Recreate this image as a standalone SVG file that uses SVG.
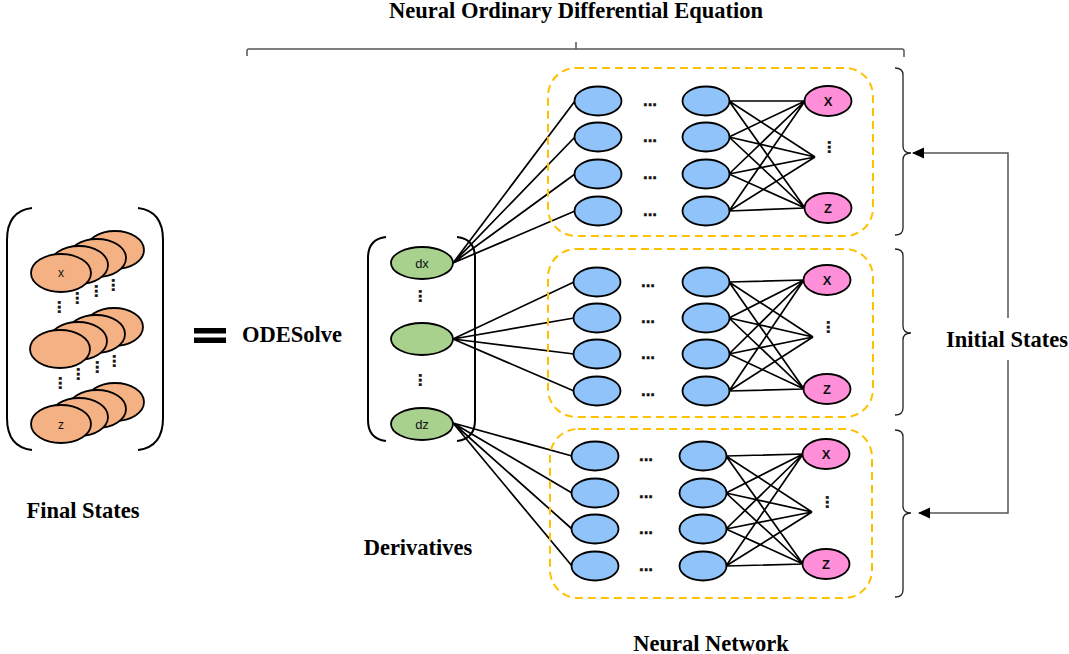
<svg xmlns="http://www.w3.org/2000/svg" width="1069" height="654" viewBox="0 0 1069 654">
  <defs>
    <style>
      .title { font-family: "Liberation Serif", "Times New Roman", serif; font-weight: bold; font-size: 22.5px; fill: #000; }
      .lbl { font-family: "Liberation Sans", Arial, sans-serif; fill: #111; text-anchor: middle; }
      .dots { font-family: "Liberation Sans", Arial, sans-serif; font-weight: bold; font-size: 17px; fill: #111; stroke: #111; stroke-width: 0.4; text-anchor: middle; }
      .state { fill: #F4B183; stroke: #000; stroke-width: 1.8; }
      .deriv { fill: #A9D18E; stroke: #000; stroke-width: 1.8; }
      .hidden { fill: #8FC3F9; stroke: #000; stroke-width: 1.8; }
      .out { fill: #FF8FD8; stroke: #000; stroke-width: 1.8; }
      .net { fill: none; stroke: #FFC000; stroke-width: 2; stroke-dasharray: 8 5; }
      .wire { stroke: #000; stroke-width: 1.7; fill: none; }
      .paren { fill: none; stroke: #000; stroke-width: 2; }
      .brace { fill: none; stroke: #222; stroke-width: 1.3; }
      .guide { fill: none; stroke: #555; stroke-width: 1.5; }
    </style>
    <marker id="tri" viewBox="0 0 12 12" refX="11" refY="6" markerWidth="12" markerHeight="12" markerUnits="userSpaceOnUse" orient="auto">
      <path d="M0,0.5 L12,6 L0,11.5 Z" fill="#000"/>
    </marker>
  </defs>

  <rect width="1069" height="654" fill="#fff"/>

  <!-- headline and overall bracket -->
  <g id="ode-title">
    <text class="title" x="576" y="18" text-anchor="middle">Neural Ordinary Differential Equation</text>
    <path class="guide" d="M247,56 L247,51 Q247,49 249,49 L902,49 Q904,49 904,51 L904,57 M576,49 L576,42"/>
  </g>

  <!-- final states: stacked ellipses in parentheses -->
  <g id="final-states">
    <path class="paren" d="M32,208 Q7,211 7,240 L7,418 Q7,447 32,450"/>
    <path class="paren" d="M138,208 Q163,211 163,240 L163,418 Q163,447 138,450"/>
    <!-- row x -->
    <ellipse class="state" cx="115" cy="250" rx="29" ry="19"/>
    <ellipse class="state" cx="97" cy="258" rx="29" ry="19"/>
    <ellipse class="state" cx="79" cy="265" rx="29" ry="19"/>
    <ellipse class="state" cx="61" cy="273" rx="30" ry="19"/>
    <text class="lbl" x="61" y="277" font-size="12">x</text>
    <!-- row middle -->
    <ellipse class="state" cx="114" cy="327" rx="29" ry="19"/>
    <ellipse class="state" cx="96" cy="334" rx="29" ry="19"/>
    <ellipse class="state" cx="78" cy="341" rx="29" ry="19"/>
    <ellipse class="state" cx="60" cy="349" rx="30" ry="19"/>
    <!-- row z -->
    <ellipse class="state" cx="115" cy="402" rx="29" ry="19"/>
    <ellipse class="state" cx="97" cy="409" rx="29" ry="19"/>
    <ellipse class="state" cx="79" cy="417" rx="29" ry="19"/>
    <ellipse class="state" cx="61" cy="424" rx="30" ry="19"/>
    <text class="lbl" x="61" y="429" font-size="12">z</text>
    <!-- vertical ellipsis between rows -->
    <g class="dots">
      <text transform="translate(58,307) rotate(90)">...</text>
      <text transform="translate(76,298) rotate(90)">...</text>
      <text transform="translate(95,291) rotate(90)">...</text>
      <text transform="translate(112,285) rotate(90)">...</text>
      <text transform="translate(59,383) rotate(90)">...</text>
      <text transform="translate(77,374) rotate(90)">...</text>
      <text transform="translate(96,367) rotate(90)">...</text>
      <text transform="translate(113,361) rotate(90)">...</text>
    </g>
    <text class="title" x="83" y="518" text-anchor="middle">Final States</text>
  </g>

  <!-- equals sign and solver name -->
  <g id="odesolve">
    <rect x="194" y="328" width="32" height="5.5" fill="#000"/>
    <rect x="194" y="337.5" width="32" height="5.5" fill="#000"/>
    <text class="title" x="242" y="342">ODESolve</text>
  </g>

  <!-- derivatives column -->
  <g id="derivatives">
    <path class="paren" d="M386,237 Q368,239 368,258 L368,420 Q368,439 386,441"/>
    <path class="paren" d="M457,237 Q475,239 475,258 L475,420 Q475,439 457,441"/>
    <text class="title" x="418" y="555" text-anchor="middle">Derivatives</text>
  </g>

  <!-- connectors -->
  <g id="connectors">
    <!-- derivative nodes to first hidden layer -->
    <path class="wire" d="M453,263 L575,101 M453,263 L575,137 M453,263 L575,174 M453,263 L575,211"/>
    <path class="wire" d="M453,339 L574,282 M453,339 L574,318 M453,339 L574,354 M453,339 L574,391"/>
    <path class="wire" d="M453,423 L572,456 M453,423 L572,493 M453,423 L572,529 M453,423 L572,566"/>
    <!-- last hidden layer to outputs, top network -->
    <path class="wire" d="M729,101 L805,101 M729,101 L815,157 M729,101 L805,208
                          M729,137 L805,101 M729,137 L815,157 M729,137 L805,208
                          M729,174 L805,101 M729,174 L815,157 M729,174 L805,208
                          M729,211 L805,101 M729,211 L815,157 M729,211 L805,208"/>
    <!-- middle network -->
    <path class="wire" d="M729,282 L804,280 M729,282 L813,337 M729,282 L804,389
                          M729,318 L804,280 M729,318 L813,337 M729,318 L804,389
                          M729,354 L804,280 M729,354 L813,337 M729,354 L804,389
                          M729,391 L804,280 M729,391 L813,337 M729,391 L804,389"/>
    <!-- bottom network -->
    <path class="wire" d="M726,456 L803,454 M726,456 L812,512 M726,456 L803,564
                          M726,493 L803,454 M726,493 L812,512 M726,493 L803,564
                          M726,529 L803,454 M726,529 L812,512 M726,529 L803,564
                          M726,566 L803,454 M726,566 L812,512 M726,566 L803,564"/>
    <!-- initial states feedback -->
    <path class="guide" d="M1008,318 L1008,153 L913,153" marker-end="url(#tri)"/>
    <path class="guide" d="M1008,360 L1008,513 L919,513" marker-end="url(#tri)"/>
  </g>

  <g id="deriv-nodes">
    <ellipse class="deriv" cx="422" cy="263" rx="31" ry="16"/>
    <text class="lbl" x="422" y="267.5" font-size="13">dx</text>
    <text class="dots" transform="translate(419,296) rotate(90)">...</text>
    <ellipse class="deriv" cx="422" cy="339" rx="31" ry="16"/>
    <text class="dots" transform="translate(419,380) rotate(90)">...</text>
    <ellipse class="deriv" cx="422" cy="424" rx="31" ry="16"/>
    <text class="lbl" x="422" y="428.5" font-size="13">dz</text>
  </g>

  <!-- neural network 1 -->
  <g id="network-1">
    <rect class="net" x="548" y="68" width="325" height="168" rx="28"/>
    <ellipse class="hidden" cx="598" cy="101" rx="23.5" ry="14.5"/>
    <ellipse class="hidden" cx="598" cy="137" rx="23.5" ry="14.5"/>
    <ellipse class="hidden" cx="598" cy="174" rx="23.5" ry="14.5"/>
    <ellipse class="hidden" cx="598" cy="211" rx="23.5" ry="14.5"/>
    <text class="dots" x="650" y="106">...</text>
    <text class="dots" x="650" y="142">...</text>
    <text class="dots" x="650" y="179">...</text>
    <text class="dots" x="650" y="216">...</text>
    <ellipse class="hidden" cx="706" cy="101" rx="23.5" ry="14.5"/>
    <ellipse class="hidden" cx="706" cy="137" rx="23.5" ry="14.5"/>
    <ellipse class="hidden" cx="706" cy="174" rx="23.5" ry="14.5"/>
    <ellipse class="hidden" cx="706" cy="211" rx="23.5" ry="14.5"/>
    <ellipse class="out" cx="828" cy="101" rx="23.5" ry="15"/>
    <text class="lbl" x="828" y="105.5" font-size="13" font-weight="bold">X</text>
    <text class="dots" transform="translate(828,147) rotate(90)">...</text>
    <ellipse class="out" cx="828" cy="208" rx="23.5" ry="15"/>
    <text class="lbl" x="828" y="212.5" font-size="13" font-weight="bold">Z</text>
    <path class="brace" d="M895,68 Q903,68 903,75 L903,146 Q903,153 911,153 Q903,153 903,160 L903,228 Q903,235 895,235"/>
  </g>

  <!-- neural network 2 -->
  <g id="network-2">
    <rect class="net" x="548" y="249" width="325" height="168" rx="28"/>
    <ellipse class="hidden" cx="597" cy="282" rx="23.5" ry="14.5"/>
    <ellipse class="hidden" cx="597" cy="318" rx="23.5" ry="14.5"/>
    <ellipse class="hidden" cx="597" cy="354" rx="23.5" ry="14.5"/>
    <ellipse class="hidden" cx="597" cy="391" rx="23.5" ry="14.5"/>
    <text class="dots" x="648" y="287">...</text>
    <text class="dots" x="648" y="323">...</text>
    <text class="dots" x="648" y="359">...</text>
    <text class="dots" x="648" y="396">...</text>
    <ellipse class="hidden" cx="706" cy="282" rx="23.5" ry="14.5"/>
    <ellipse class="hidden" cx="706" cy="318" rx="23.5" ry="14.5"/>
    <ellipse class="hidden" cx="706" cy="354" rx="23.5" ry="14.5"/>
    <ellipse class="hidden" cx="706" cy="391" rx="23.5" ry="14.5"/>
    <ellipse class="out" cx="827" cy="280" rx="23.5" ry="15"/>
    <text class="lbl" x="827" y="284.5" font-size="13" font-weight="bold">X</text>
    <text class="dots" transform="translate(827,327) rotate(90)">...</text>
    <ellipse class="out" cx="827" cy="389" rx="23.5" ry="15"/>
    <text class="lbl" x="827" y="393.5" font-size="13" font-weight="bold">Z</text>
    <path class="brace" d="M895,249 Q903,249 903,256 L903,326 Q903,333 911,333 Q903,333 903,340 L903,408 Q903,415 895,415"/>
  </g>

  <!-- neural network 3 -->
  <g id="network-3">
    <rect class="net" x="550" y="429" width="322" height="169" rx="28"/>
    <ellipse class="hidden" cx="595" cy="456" rx="23.5" ry="14.5"/>
    <ellipse class="hidden" cx="595" cy="493" rx="23.5" ry="14.5"/>
    <ellipse class="hidden" cx="595" cy="529" rx="23.5" ry="14.5"/>
    <ellipse class="hidden" cx="595" cy="566" rx="23.5" ry="14.5"/>
    <text class="dots" x="646" y="461">...</text>
    <text class="dots" x="646" y="498">...</text>
    <text class="dots" x="646" y="534">...</text>
    <text class="dots" x="646" y="571">...</text>
    <ellipse class="hidden" cx="703" cy="456" rx="23.5" ry="14.5"/>
    <ellipse class="hidden" cx="703" cy="493" rx="23.5" ry="14.5"/>
    <ellipse class="hidden" cx="703" cy="529" rx="23.5" ry="14.5"/>
    <ellipse class="hidden" cx="703" cy="566" rx="23.5" ry="14.5"/>
    <ellipse class="out" cx="826" cy="454" rx="23.5" ry="15"/>
    <text class="lbl" x="826" y="458.5" font-size="13" font-weight="bold">X</text>
    <text class="dots" transform="translate(826,502) rotate(90)">...</text>
    <ellipse class="out" cx="826" cy="564" rx="23.5" ry="15"/>
    <text class="lbl" x="826" y="568.5" font-size="13" font-weight="bold">Z</text>
    <path class="brace" d="M895,430 Q903,430 903,437 L903,506 Q903,513 911,513 Q903,513 903,520 L903,590 Q903,597 895,597"/>
  </g>

  <text class="title" x="711" y="651" text-anchor="middle">Neural Network</text>
  <text class="title" x="1007" y="347" text-anchor="middle">Initial States</text>
</svg>
